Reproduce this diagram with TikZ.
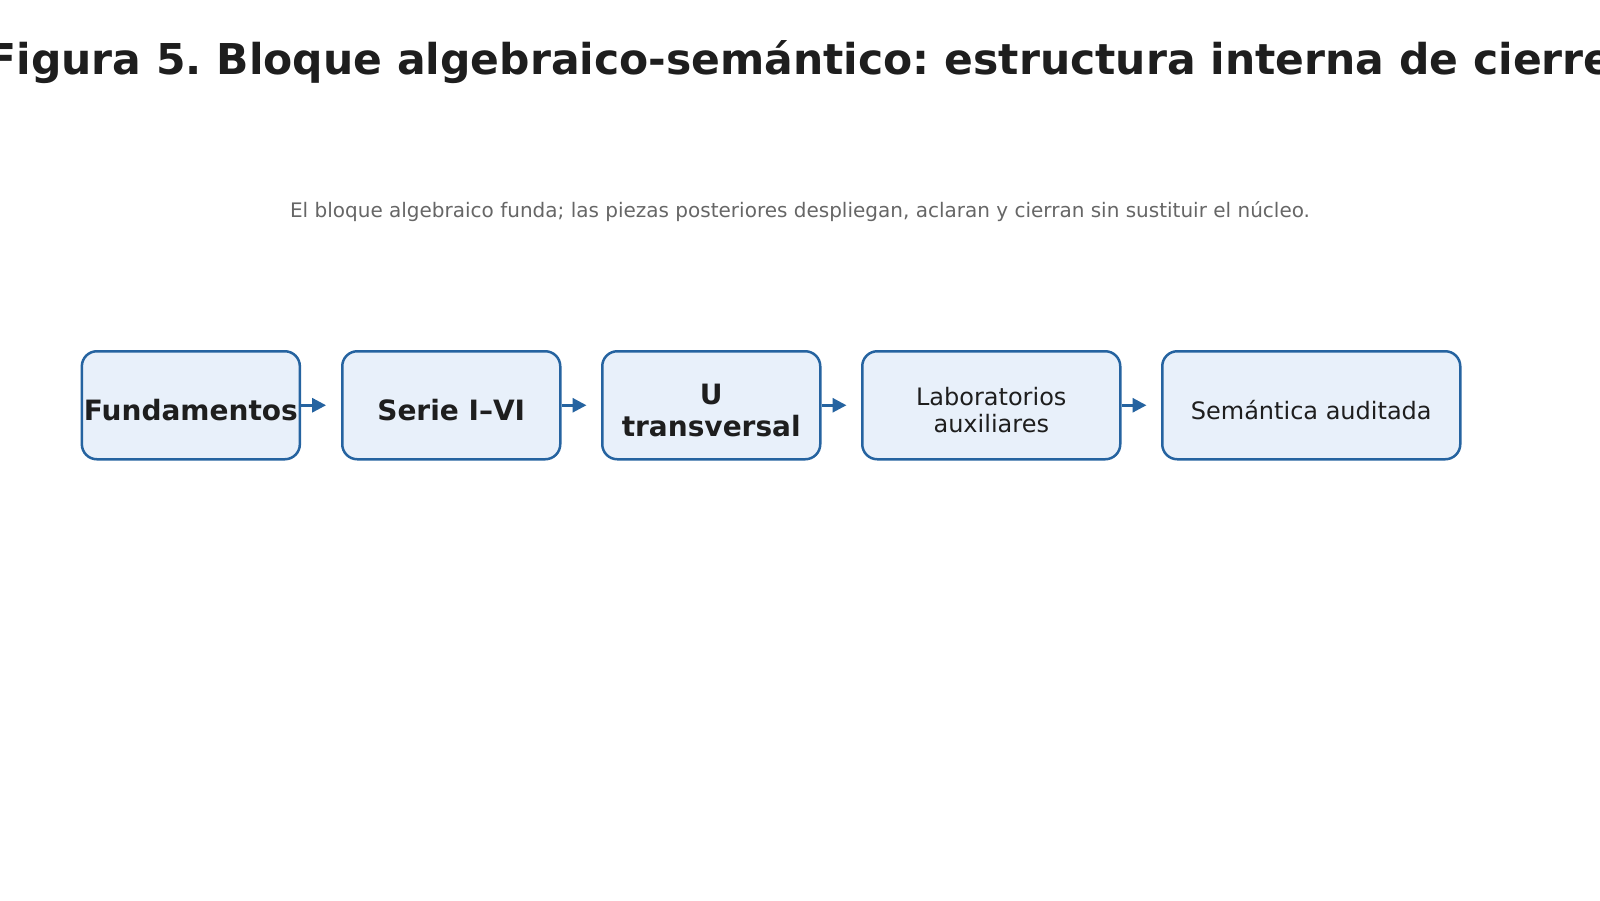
\documentclass[tikz,border=0pt]{standalone}
\usepackage{fontspec}
\setmainfont{DejaVu Sans}
\usetikzlibrary{arrows.meta,calc}
\definecolor{edgeblue}{HTML}{2563A0}
\definecolor{boxfill}{HTML}{E8F0FA}
\definecolor{ink}{HTML}{1E1E1E}
\definecolor{subgray}{HTML}{666666}
\begin{document}
\frenchspacing
\begin{tikzpicture}[x=1pt,y=-1pt,
  stage/.style={draw=edgeblue, fill=boxfill, line width=2.5pt, rounded corners=15pt,
    minimum height=108pt, inner sep=0pt, anchor=north west},
  boldlabel/.style={text=ink, font=\fontsize{28}{32}\selectfont\bfseries, align=center, inner sep=0pt},
  plainlabel/.style={text=ink, font=\fontsize{24}{27}\selectfont, align=center, inner sep=0pt},
  flow/.style={draw=edgeblue, line width=3pt, -{Triangle[length=14pt,width=14pt]}}
]
\useasboundingbox (0,0) rectangle (1600,900);

\node[text=ink, font=\fontsize{42.5}{50}\selectfont\bfseries, anchor=base, inner sep=0pt] (title) at (800,74.5)
  {Figura 5. Bloque algebraico-semántico: estructura interna de cierre};
\node[text=subgray, font=\fontsize{20}{24}\selectfont, inner sep=0pt] (subtitle) at (800,212)
  {El bloque algebraico funda; las piezas posteriores despliegan, aclaran y cierran sin sustituir el núcleo.};

\node[stage, minimum width=218pt] (b1) at (80.6,350) {};
\node[stage, minimum width=218pt] (b2) at (341,350) {};
\node[stage, minimum width=218pt] (b3) at (601,350) {};
\node[stage, minimum width=258pt] (b4) at (861,350) {};
\node[stage, minimum width=298pt] (b5) at (1161,350) {};

\node[boldlabel] (t1) at ($(b1.center)+(0,5)$) {Fundamentos};
\node[boldlabel] (t2) at ($(b2.center)+(0,5)$) {Serie I–VI};
\node[boldlabel] (t3) at ($(b3.center)+(0,5)$) {U\\transversal};
\node[plainlabel] (t4) at ($(b4.center)+(0,5)$) {Laboratorios\\auxiliares};
\node[plainlabel] (t5) at ($(b5.center)+(0,5)$) {Semántica auditada};

\foreach \a in {1,2,3,4}{
  \coordinate (e\a) at ($(b\a.east)+(25,0)$);
  \draw[flow] (b\a.east) -- (e\a);
}
\end{tikzpicture}
\end{document}
